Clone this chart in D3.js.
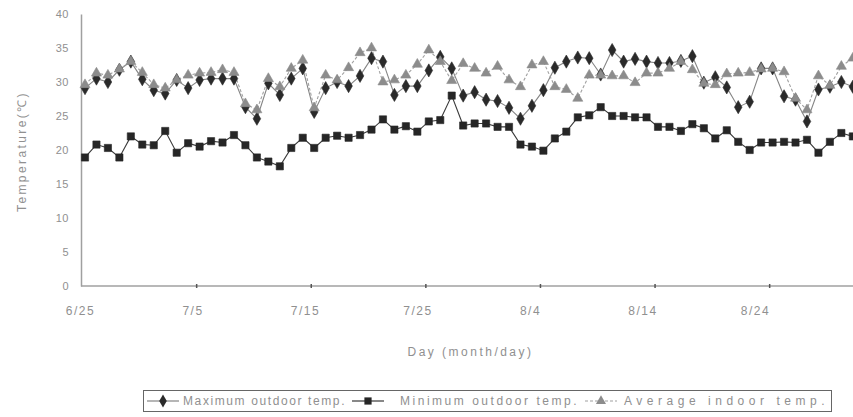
<!DOCTYPE html>
<meta charset="utf-8">
<style>
body { margin: 0; background: #fff; }
text { font-family: "Liberation Sans", Arial, sans-serif; fill: #909090; font-size: 12px; letter-spacing: 1.5px; }
</style>
<svg id="chart" width="853" height="417"></svg>
<script src="https://cdn.jsdelivr.net/npm/d3@7/dist/d3.min.js"></script>
<script>

// day index 0 = 6/25 ... 67 = 8/31
var tickDays = [0, 10, 20, 30, 40, 50, 60];
var tickLabels = ["6/25", "7/5", "7/15", "7/25", "8/4", "8/14", "8/24"];
var yTicks = [0, 5, 10, 15, 20, 25, 30, 35, 40];

var maxOutdoor = [29.1, 30.5, 30.0, 31.8, 33.0, 30.4, 28.8, 28.3, 30.3, 29.1,
                  30.3, 30.5, 30.5, 30.5, 26.3, 24.6, 29.8, 28.1, 30.5, 32.0,
                  25.6, 29.1, 30.0, 29.4, 30.9, 33.5, 33.0, 28.1, 29.4, 29.4,
                  31.7, 33.7, 32.0, 28.0, 28.5, 27.4, 27.2, 26.2, 24.6, 26.5,
                  28.8, 32.1, 33.0, 33.6, 33.5, 31.1, 34.7, 33.0, 33.4, 33.0,
                  32.8, 32.8, 33.1, 33.8, 29.9, 30.7, 29.2, 26.3, 27.1, 32.0,
                  32.0, 27.9, 27.4, 24.2, 28.9, 29.3, 30.0, 29.3];

var minOutdoor = [18.9, 20.8, 20.3, 18.9, 22.0, 20.8, 20.7, 22.8, 19.6, 21.0,
                  20.5, 21.3, 21.1, 22.2, 20.7, 18.9, 18.3, 17.6, 20.3, 21.8,
                  20.3, 21.8, 22.1, 21.8, 22.2, 23.0, 24.5, 23.0, 23.5, 22.7,
                  24.2, 24.4, 28.0, 23.6, 23.9, 23.9, 23.4, 23.4, 20.8, 20.5,
                  19.9, 21.7, 22.7, 24.8, 25.1, 26.3, 25.0, 25.0, 24.8, 24.8,
                  23.4, 23.4, 22.8, 23.8, 23.2, 21.7, 22.9, 21.2, 20.0, 21.1,
                  21.1, 21.2, 21.1, 21.5, 19.6, 21.2, 22.5, 22.0];

var avgIndoor = [29.6, 31.3, 31.0, 31.9, 33.0, 31.4, 29.6, 29.1, 30.3, 31.0,
                 31.3, 31.4, 31.8, 31.4, 26.8, 25.9, 30.5, 29.3, 32.0, 33.2,
                 26.2, 31.0, 30.3, 32.1, 34.3, 35.0, 30.0, 30.3, 31.0, 32.6,
                 34.7, 33.0, 30.2, 32.7, 32.0, 31.3, 32.3, 30.3, 29.3, 32.5,
                 33.0, 29.3, 28.9, 27.6, 31.0, 31.0, 30.9, 30.9, 29.9, 31.3,
                 31.3, 32.0, 33.0, 31.8, 29.8, 29.6, 31.2, 31.3, 31.4, 31.9,
                 32.0, 31.5, 27.6, 25.9, 30.9, 29.5, 32.3, 33.5];

var series = [
  {name: "Maximum outdoor temp.", values: maxOutdoor, symbol: d3.symbolDiamond, size: 50,
   line: "#858585", dash: null, fill: "#2a2a2a", lx: 147, tx: 183, tw: 163},
  {name: "Minimum outdoor temp.", values: minOutdoor, symbol: d3.symbolSquare, size: 52,
   line: "#3a3a3a", dash: null, fill: "#262626", lx: 352, tx: 400, tw: 178},
  {name: "Average indoor temp.", values: avgIndoor, symbol: d3.symbolTriangle, size: 44,
   line: "#a0a0a0", dash: "3,2", fill: "#8c8c8c", lx: 585, tx: 624, tw: 202}
];

var svg = d3.select("svg"),
    axisX = 81,
    right = 853;

var x = d3.scaleLinear().domain([0, 67]).range([85, 85 + 67 * 11.46]);
var y = d3.scaleLinear().domain([0, 40]).range([286, 14]);
var labelX = d3.scaleLinear().domain([0, 60]).range([80, 755]);

// y axis
var ya = svg.append("g")
    .attr("transform", "translate(" + axisX + ",0)")
    .call(d3.axisLeft(y).tickValues(yTicks).tickSize(0).tickPadding(12));
ya.select(".domain").attr("stroke", "#a0a0a0").attr("stroke-width", 1.5);
ya.selectAll("text").style("font-size", "11px").style("letter-spacing", "0.5px");

// x axis line + tick marks (between categories)
svg.append("line")
    .attr("x1", axisX).attr("x2", right)
    .attr("y1", y(0)).attr("y2", y(0))
    .attr("stroke", "#a0a0a0").attr("stroke-width", 1.5);

var xa = svg.append("g")
    .attr("transform", "translate(0," + (y(0) - 2) + ")")
    .call(d3.axisBottom(x).tickValues(tickDays.slice(1).map(function(d) { return d - 0.3; }))
      .tickFormat("").tickSizeInner(4).tickSizeOuter(0));
xa.select(".domain").remove();
xa.selectAll("line").attr("stroke", "#555").attr("stroke-width", 1.5);

var xl = svg.append("g")
    .attr("transform", "translate(0," + y(0) + ")")
    .call(d3.axisBottom(labelX).tickValues(tickDays)
      .tickFormat(function(d, i) { return tickLabels[i]; }).tickSize(0).tickPadding(20));
xl.select(".domain").remove();

// axis titles
svg.append("text")
    .attr("x", 470).attr("y", 356)
    .attr("text-anchor", "middle")
    .attr("textLength", 125).attr("lengthAdjust", "spacing")
    .text("Day (month/day)");

svg.append("text")
    .attr("transform", "translate(26,152) rotate(-90)")
    .attr("text-anchor", "middle")
    .attr("textLength", 120).attr("lengthAdjust", "spacing")
    .text("Temperature(\u2103)");

// series
var line = d3.line()
    .x(function(d, i) { return x(i); })
    .y(function(d) { return y(d); });

series.forEach(function(s) {
  svg.append("path")
      .datum(s.values)
      .attr("d", line)
      .attr("fill", "none")
      .attr("stroke", s.line)
      .attr("stroke-width", 1.1)
      .attr("stroke-dasharray", s.dash);
});

series.forEach(function(s) {
  svg.append("g").selectAll("path")
      .data(s.values)
    .enter().append("path")
      .attr("transform", function(d, i) { return "translate(" + x(i) + "," + y(d) + ")"; })
      .attr("d", d3.symbol().type(s.symbol).size(s.size))
      .attr("fill", s.fill)
      .attr("stroke", s.fill)
      .attr("stroke-width", 0.6);
});

// legend
var lg = svg.append("g");
lg.append("rect")
    .attr("x", 143.5).attr("y", 390.5)
    .attr("width", 688).attr("height", 21)
    .attr("fill", "none").attr("stroke", "#666").attr("stroke-width", 1);

series.forEach(function(s) {
  var cy = 401;
  lg.append("line")
      .attr("x1", s.lx).attr("x2", s.lx + 32)
      .attr("y1", cy).attr("y2", cy)
      .attr("stroke", s.line).attr("stroke-width", 1.2)
      .attr("stroke-dasharray", s.dash);
  lg.append("path")
      .attr("transform", "translate(" + (s.lx + 16) + "," + cy + ")")
      .attr("d", d3.symbol().type(s.symbol).size(s.size))
      .attr("fill", s.fill);
  lg.append("text")
      .attr("x", s.tx).attr("y", cy + 4)
      .attr("textLength", s.tw).attr("lengthAdjust", "spacing")
      .text(s.name);
});

</script>
